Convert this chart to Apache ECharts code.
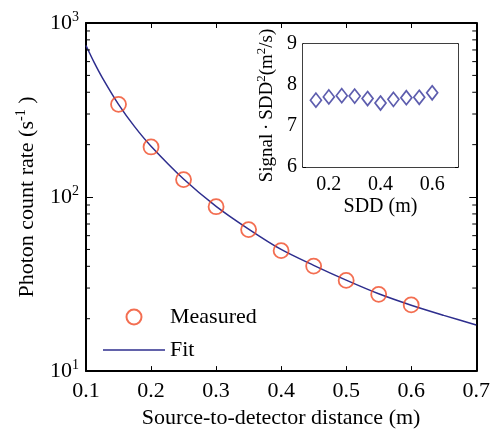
<!DOCTYPE html>
<html><head><meta charset="utf-8">
<script src="https://cdn.jsdelivr.net/npm/echarts@6/dist/echarts.min.js"></script>
<style>html,body{margin:0;padding:0;background:#fff}#c{width:493px;height:434px}</style>
</head><body><div id="c"></div>
<script>
// Measured photon count rate vs source-to-detector distance
var distances = [0.15, 0.20, 0.25, 0.30, 0.35, 0.40, 0.45, 0.50, 0.55, 0.60];
var measured = [341, 194, 126, 88, 65, 49.2, 40.1, 33.2, 27.6, 24.0];
// Fit curve
var fitX = [0.10, 0.1125, 0.125, 0.15, 0.175, 0.20, 0.25, 0.30, 0.35, 0.40, 0.45, 0.50, 0.55, 0.60, 0.65, 0.70];
var fitY = [743, 594, 486, 341, 253, 196, 127, 88.5, 65.5, 50, 40.5, 33.3, 27.8, 23.9, 20.9, 18.4];
// Inset: Signal * SDD^2
var insetY = [7.63, 7.71, 7.74, 7.73, 7.67, 7.56, 7.65, 7.69, 7.70, 7.81];
var minorTicks = [20, 30, 40, 50, 60, 70, 80, 90, 200, 300, 400, 500, 600, 700, 800, 900];
var xTicks = [0.1, 0.2, 0.3, 0.4, 0.5, 0.6, 0.7];
var insetXTicks = [0.2, 0.4, 0.6];

var FONT = "'Liberation Serif','Times New Roman',serif";
var NAVY = '#2e2e8e';
var RED = '#f04a26';

var chart = echarts.init(document.getElementById('c'), null, {renderer: 'canvas'});

function pair(xs, ys) { return xs.map(function (x, i) { return [x, ys[i]]; }); }

var supRich = {
  sup: {fontSize: 14, fontFamily: FONT, color: '#000', padding: [0, 0, 12, 0]}
};

var option = {
  animation: false,
  backgroundColor: '#fff',
  textStyle: {fontFamily: FONT, color: '#000'},
  grid: [
    {left: 86, top: 23, width: 392, height: 350, containLabel: false},
    {left: 303, top: 44, width: 155, height: 123, show: true, backgroundColor: '#fff', borderWidth: 0, z: 5}
  ],
  legend: {
    orient: 'vertical', left: 98, top: 301,
    itemWidth: 62, itemHeight: 15, itemGap: 11, symbolKeepAspect: true,
    textStyle: {fontFamily: FONT, fontSize: 22, color: '#000'},
    data: [{name: 'Measured'}, {name: 'Fit', icon: 'path://M0,0 L62,0 L62,1.6 L0,1.6 Z'}]
  },
  xAxis: [
    {
      gridIndex: 0, type: 'value', min: 0.1, max: 0.7, interval: 0.1,
      axisLine: {show: true, lineStyle: {color: '#000', width: 2}},
      axisTick: {inside: true, length: 5, lineStyle: {color: '#000'}, customValues: xTicks},
      axisLabel: {fontFamily: FONT, fontSize: 22, color: '#000', margin: 9, customValues: xTicks,
        formatter: function (v) { return v.toFixed(1); }},
      splitLine: {show: false},
      name: 'Source-to-detector distance (m)', nameLocation: 'middle', nameGap: 31,
      nameTextStyle: {fontFamily: FONT, fontSize: 22, color: '#000'}
    },
    {
      gridIndex: 0, type: 'value', position: 'top', min: 0.1, max: 0.7, interval: 0.1,
      axisLine: {show: true, lineStyle: {color: '#000', width: 2}},
      axisTick: {inside: true, length: 5, lineStyle: {color: '#000'}, customValues: xTicks},
      axisLabel: {show: false}, splitLine: {show: false}
    },
    {
      gridIndex: 1, type: 'value', min: 0.1, max: 0.7,
      axisLine: {show: true, lineStyle: {color: '#000', width: 1.5}},
      axisTick: {inside: true, length: 3, lineStyle: {color: '#000'}, customValues: insetXTicks},
      axisLabel: {fontFamily: FONT, fontSize: 20, color: '#000', margin: 8, customValues: insetXTicks,
        formatter: function (v) { return v.toFixed(1); }},
      splitLine: {show: false},
      name: 'SDD (m)', nameLocation: 'middle', nameGap: 30,
      nameTextStyle: {fontFamily: FONT, fontSize: 20, color: '#000'}
    },
    {
      gridIndex: 1, type: 'value', position: 'top', min: 0.1, max: 0.7,
      axisLine: {show: true, lineStyle: {color: '#000', width: 1.5}},
      axisTick: {inside: true, length: 3, lineStyle: {color: '#000'}, customValues: insetXTicks},
      axisLabel: {show: false}, splitLine: {show: false}
    }
  ],
  yAxis: [
    {
      gridIndex: 0, type: 'log', logBase: 10, min: 10, max: 1000,
      axisLine: {show: true, lineStyle: {color: '#000', width: 2}},
      axisTick: {inside: true, length: 7, lineStyle: {color: '#000'}},
      axisLabel: {fontFamily: FONT, fontSize: 22, color: '#000', margin: 7,
        formatter: function (v) { return '10{sup|' + Math.round(Math.log10(v)) + '}'; },
        rich: supRich},
      splitLine: {show: false},
      name: 'Photon count rate (s{sup|-1} )', nameLocation: 'middle', nameGap: 46, nameRotate: 90,
      nameTextStyle: {fontFamily: FONT, fontSize: 22, color: '#000', rich: supRich}
    },
    {
      gridIndex: 0, type: 'log', logBase: 10, min: 10, max: 1000, position: 'right',
      axisLine: {show: true, lineStyle: {color: '#000', width: 2}},
      axisTick: {inside: true, length: 7, lineStyle: {color: '#000'}},
      axisLabel: {show: false}, splitLine: {show: false}
    },
    {
      gridIndex: 1, type: 'value', min: 6, max: 9, interval: 1,
      axisLine: {show: true, lineStyle: {color: '#000', width: 1.5}},
      axisTick: {inside: true, length: 3, lineStyle: {color: '#000'}},
      axisLabel: {fontFamily: FONT, fontSize: 20, color: '#000', margin: 6},
      splitLine: {show: false},
      name: 'Signal\u2009·\u2009SDD{sup|2}(m{sup|2}/s)', nameLocation: 'middle', nameGap: 24, nameRotate: 90,
      nameTextStyle: {fontFamily: FONT, fontSize: 19, color: '#000',
        rich: {sup: {fontSize: 13, fontFamily: FONT, color: '#000', padding: [0, 0, 11, 0]}}}
    },
    {
      gridIndex: 1, type: 'value', min: 6, max: 9, interval: 1, position: 'right',
      axisLine: {show: true, lineStyle: {color: '#000', width: 1.5}},
      axisTick: {inside: true, length: 3, lineStyle: {color: '#000'}},
      axisLabel: {show: false}, splitLine: {show: false}
    }
  ],
  series: [
    {
      name: 'Fit', type: 'line', xAxisIndex: 0, yAxisIndex: 0,
      data: pair(fitX, fitY), smooth: 0.3, showSymbol: false, symbol: 'none',
      lineStyle: {color: NAVY, width: 1.5}, itemStyle: {color: NAVY}, z: 2
    },
    {
      name: 'Measured', type: 'scatter', xAxisIndex: 0, yAxisIndex: 0,
      data: pair(distances, measured), symbol: 'circle', symbolSize: 15,
      itemStyle: {color: 'rgba(0,0,0,0)', borderColor: RED, borderWidth: 1.8}, z: 3
    },
    {
      name: 'minor', type: 'custom', xAxisIndex: 0, yAxisIndex: 0,
      data: minorTicks.map(function (v) { return [0.1, v]; }),
      silent: true, z: 4,
      renderItem: function (params, api) {
        var v = api.value(1);
        var l = api.coord([0.1, v]);
        var r = api.coord([0.7, v]);
        return {
          type: 'group', children: [
            {type: 'line', shape: {x1: l[0], y1: l[1], x2: l[0] + 4, y2: l[1]}, style: {stroke: '#000', lineWidth: 1}},
            {type: 'line', shape: {x1: r[0], y1: r[1], x2: r[0] - 4, y2: r[1]}, style: {stroke: '#000', lineWidth: 1}}
          ]
        };
      }
    },
    {
      name: 'Inset', type: 'scatter', xAxisIndex: 2, yAxisIndex: 2,
      data: pair(distances, insetY), symbol: 'diamond', symbolSize: [11, 14],
      itemStyle: {color: 'rgba(0,0,0,0)', borderColor: '#34349a', borderWidth: 1.7}, z: 6
    }
  ]
};
chart.setOption(option);
</script>
</body></html>
